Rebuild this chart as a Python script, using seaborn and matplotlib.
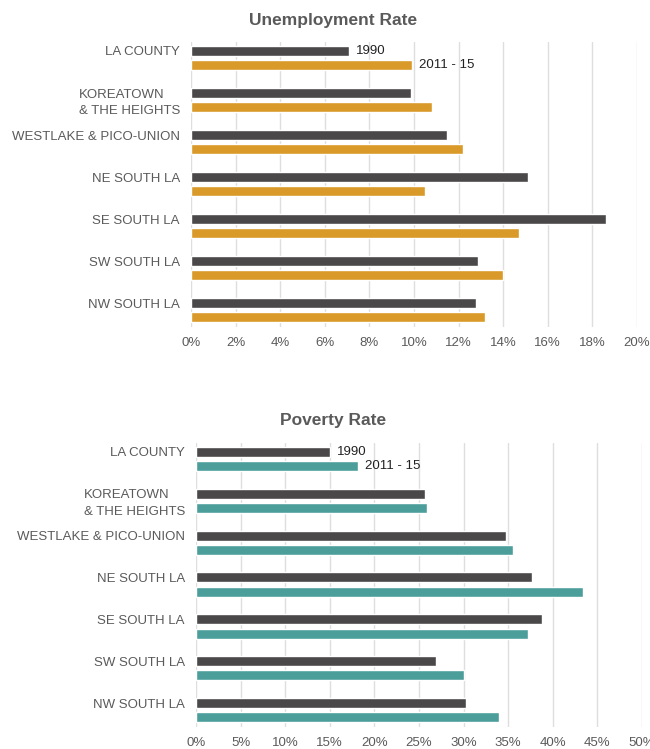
import matplotlib
matplotlib.use("Agg")
import matplotlib.pyplot as plt
import matplotlib.transforms as mtrans
from matplotlib.ticker import FuncFormatter, MultipleLocator
import seaborn as sns
import pandas as pd

areas = ["LA COUNTY", "KOREATOWN\n& THE HEIGHTS", "WESTLAKE & PICO-UNION",
         "NE SOUTH LA", "SE SOUTH LA", "SW SOUTH LA", "NW SOUTH LA"]
periods = ["1990", "2011 - 15"]
unemp_1990 = [7.1, 9.85, 11.5, 15.1, 18.6, 12.85, 12.8]
unemp_2015 = [9.9, 10.8, 12.2, 10.5, 14.7, 14.0, 13.2]
pov_1990 = [15.0, 25.7, 34.8, 37.7, 38.8, 26.9, 30.3]
pov_2015 = [18.2, 25.9, 35.5, 43.4, 37.2, 30.0, 34.0]

DARK = "#4a4849"
GOLD = "#d99a2a"
TEAL = "#4c9e9b"
GRID = "#dedede"
LABEL = "#5a5a5a"

sns.set_theme(style="white")
plt.rcParams["font.family"] = ["Liberation Sans", "DejaVu Sans"]

fig = plt.figure(figsize=(6.5, 7.49), dpi=100)


def make_df(v1, v2):
    return pd.DataFrame({
        "area": areas * 2,
        "period": [periods[0]] * len(areas) + [periods[1]] * len(areas),
        "value": list(v1) + list(v2),
    })


def draw(rect, v1, v2, color2, xmax, step, title, title_y):
    ax = fig.add_axes(rect)
    df = make_df(v1, v2)
    sns.barplot(data=df, y="area", x="value", hue="period", order=areas,
                hue_order=periods, palette=[DARK, color2], orient="h",
                width=0.68, gap=0.3, legend=False, ax=ax, saturation=1,
                errorbar=None)
    ax.set_xlim(0, xmax)
    ax.set_ylim(len(areas) - 0.6, -0.38)
    ax.xaxis.set_major_locator(MultipleLocator(step))
    ax.xaxis.set_major_formatter(FuncFormatter(lambda v, p: f"{v:.0f}%"))
    ax.grid(axis="x", color=GRID, linewidth=1)
    ax.set_axisbelow(True)
    for s in ax.spines.values():
        s.set_visible(False)
    ax.set_xlabel("")
    ax.set_ylabel("")
    ax.set_yticks(range(len(areas)), labels=areas, multialignment="left",
                  linespacing=1.55)
    ax.tick_params(axis="both", length=0, labelsize=9.5, labelcolor=LABEL)
    ax.tick_params(axis="x", pad=7)
    ax.tick_params(axis="y", pad=8)
    off = mtrans.ScaledTranslation(0, 0.115, fig.dpi_scale_trans)
    for lbl in ax.get_yticklabels():
        lbl.set_va("top")
        lbl.set_multialignment("left")
        lbl.set_linespacing(1.55)
        lbl.set_transform(lbl.get_transform() + off)
    # annotate first group with period names
    for cont, name in zip(ax.containers, periods):
        bar = cont[0]
        ax.annotate(name, xy=(bar.get_width(), bar.get_y() + bar.get_height() / 2),
                    xytext=(5, 0), textcoords="offset points", va="center",
                    ha="left", fontsize=9.5, color="#222222")
    fig.text(333 / 650, title_y, title, ha="center", va="center",
             fontsize=12.5, fontweight="bold", color=LABEL)
    return ax


draw([191 / 650, 1 - 327 / 749, (637 - 191) / 650, (327 - 42) / 749],
     unemp_1990, unemp_2015, GOLD, 20, 2, "Unemployment Rate", 1 - 20 / 749)
draw([196 / 650, 1 - 727 / 749, (642 - 196) / 650, (727 - 443) / 749],
     pov_1990, pov_2015, TEAL, 50, 5, "Poverty Rate", 1 - 421 / 749)

fig.savefig("out.png", dpi=100)
